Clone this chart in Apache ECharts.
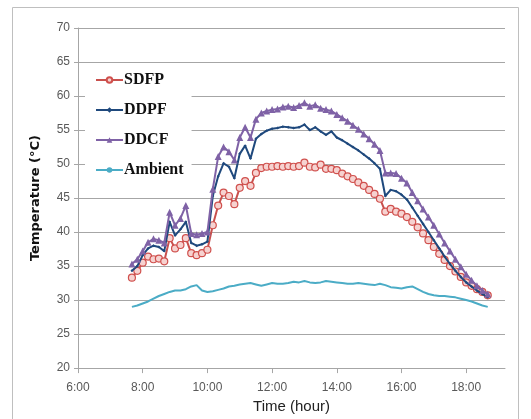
<!DOCTYPE html>
<html>
<head>
<meta charset="utf-8">
<script src="https://cdn.jsdelivr.net/npm/echarts@6/dist/echarts.min.js"></script>
<style>html,body{margin:0;padding:0;background:#fff;}#c{width:531px;height:419px;}</style>
</head>
<body>
<div id="c"></div>
<script>
const times = ["7:40","7:50","8:00","8:10","8:20","8:30","8:40","8:50","9:00","9:10","9:20","9:30","9:40","9:50","10:00","10:10","10:20","10:30","10:40","10:50","11:00","11:10","11:20","11:30","11:40","11:50","12:00","12:10","12:20","12:30","12:40","12:50","13:00","13:10","13:20","13:30","13:40","13:50","14:00","14:10","14:20","14:30","14:40","14:50","15:00","15:10","15:20","15:30","15:40","15:50","16:00","16:10","16:20","16:30","16:40","16:50","17:00","17:10","17:20","17:30","17:40","17:50","18:00","18:10","18:20","18:30","18:40"];
const sdfp = [33.3,34.3,35.5,36.4,36.0,36.1,35.7,39.1,37.6,38.1,39.1,36.9,36.6,36.9,37.4,
  41.0,43.9,45.8,45.3,44.1,46.5,47.5,46.8,48.7,49.4,49.6,
  49.6,49.7,49.6,49.7,49.6,49.7,
  50.2,49.6,49.5,49.9,49.3,49.3,
  49.1,48.6,48.2,47.8,47.3,46.8,
  46.2,45.6,44.9,43.0,43.4,43.0,
  42.7,42.2,41.5,40.7,39.8,38.8,
  37.8,36.8,35.9,35.0,34.2,33.4,
  32.6,32.1,31.6,31.2,30.7];
const ddpf = [34.3,35.0,36.6,37.6,38.0,37.8,37.2,41.5,39.5,40.4,41.5,38.4,38.0,38.2,38.6,
  45.3,48.2,50.1,49.6,47.9,51.5,52.7,50.8,53.7,54.4,54.9,
  55.2,55.3,55.5,55.4,55.3,55.4,
  55.8,55.0,55.4,54.8,54.3,54.8,
  53.9,53.5,53.0,52.5,52.0,51.4,
  50.8,50.1,49.3,45.3,46.2,46.0,
  45.5,44.8,43.6,42.4,41.2,40.0,
  38.8,37.6,36.4,35.3,34.3,33.4,
  32.6,32.0,31.4,30.9,30.4];
const ddcf = [35.3,36.0,37.2,38.5,39.0,38.8,38.4,42.9,41.0,42.0,43.9,39.8,39.6,39.8,40.0,
  46.3,51.1,52.5,51.8,50.6,53.9,55.4,53.9,56.6,57.5,57.8,
  58.0,58.1,58.4,58.5,58.3,58.6,
  59.0,58.5,58.7,58.2,58.0,57.8,
  57.3,56.8,56.3,55.7,55.1,54.4,
  53.7,52.9,52.0,48.7,48.7,48.6,
  47.9,47.2,45.8,44.6,43.4,42.2,
  41.0,39.7,38.4,37.2,36.0,34.9,
  33.8,32.9,32.1,31.4,30.9];
const ambient = [29.0,29.2,29.5,29.8,30.2,30.6,30.9,31.2,31.4,31.4,31.6,32.0,32.2,31.4,31.2,
  31.3,31.5,31.7,32.0,32.1,32.3,32.4,32.5,32.3,32.1,32.3,
  32.5,32.4,32.4,32.5,32.7,32.6,
  32.8,32.6,32.5,32.6,32.8,32.7,
  32.6,32.5,32.4,32.4,32.5,32.4,
  32.3,32.2,32.4,32.2,31.9,31.8,
  31.7,31.9,32.0,31.6,31.2,30.9,
  30.7,30.6,30.6,30.5,30.4,30.2,
  30.0,29.8,29.5,29.2,29.0];
const xTicks = ["6:00","8:00","10:00","12:00","14:00","16:00","18:00"];

function toHours(t){const p=t.split(":");return +p[0]+(+p[1])/60;}
const hx = times.map(toHours);
function pairs(arr){return arr.map((v,i)=>[hx[i],v]);}

const chart = echarts.init(document.getElementById('c'), null, {renderer:'canvas'});
const tickFont = {color:'#595959', fontSize:12, fontFamily:'Liberation Sans Narrow, Liberation Sans, Arial, sans-serif'};
chart.setOption({
  animation:false,
  backgroundColor:'#fff',
  graphic:[{type:'rect', shape:{x:12.5,y:7.5,width:506,height:420}, style:{fill:'none', stroke:'#BFBFBF', lineWidth:1}, z:-1}],
  grid:{left:78, right:26, top:28, bottom:43},
  legend:{
    left:85, top:67, orient:'vertical', itemGap:14, itemWidth:27, itemHeight:7,
    padding:[5,8,5,10], backgroundColor:'#fff',
    textStyle:{fontFamily:'Liberation Serif, Times New Roman, serif', fontWeight:'bold', fontSize:16, color:'#111', lineHeight:16, padding:[0,0,0,-4]},
    data:['SDFP','DDPF','DDCF','Ambient']
  },
  xAxis:{
    type:'value', min:6, max:19.2, interval:2,
    name:'Time (hour)', nameLocation:'middle', nameGap:26,
    nameTextStyle:{fontFamily:'Liberation Sans Narrow, Liberation Sans, Arial, sans-serif', fontSize:15, color:'#222'},
    axisLine:{show:true, lineStyle:{color:'#A6A6A6'}},
    axisTick:{show:true, length:5, lineStyle:{color:'#A6A6A6'}},
    splitLine:{show:false},
    axisLabel:Object.assign({margin:14, showMaxLabel:false, formatter:function(v){const i=Math.round((v-6)/2);return xTicks[i]||'';}}, tickFont)
  },
  yAxis:{
    type:'value', min:20, max:70, interval:5,
    name:'Temperature (°C)', nameLocation:'middle', nameGap:36,
    nameTextStyle:{fontFamily:'DejaVu Sans, sans-serif', fontWeight:'bold', fontSize:13, color:'#111'},
    axisLine:{show:true, lineStyle:{color:'#A6A6A6'}},
    axisTick:{show:true, length:4, lineStyle:{color:'#A6A6A6'}},
    splitLine:{show:true, lineStyle:{color:'#A6A6A6', width:1}},
    axisLabel:Object.assign({margin:8}, tickFont)
  },
  series:[
    {name:'Ambient', type:'line', data:pairs(ambient), symbol:'none', lineStyle:{color:'#4BACC6', width:2}, itemStyle:{color:'#4BACC6'}, z:2},
    {name:'SDFP', type:'line', data:pairs(sdfp), symbol:'circle', symbolSize:7, lineStyle:{color:'#C8504D', width:2}, itemStyle:{color:'#F6D2D0', borderColor:'#D0504D', borderWidth:1.2}, z:3},
    {name:'DDPF', type:'line', data:pairs(ddpf), symbol:'diamond', symbolSize:3, lineStyle:{color:'#1F497D', width:2}, itemStyle:{color:'#1F497D'}, z:4},
    {name:'DDCF', type:'line', data:pairs(ddcf), symbol:'triangle', symbolSize:7, lineStyle:{color:'#7F62A6', width:2}, itemStyle:{color:'#7F62A6'}, z:5}
  ]
});
</script>
</body>
</html>
